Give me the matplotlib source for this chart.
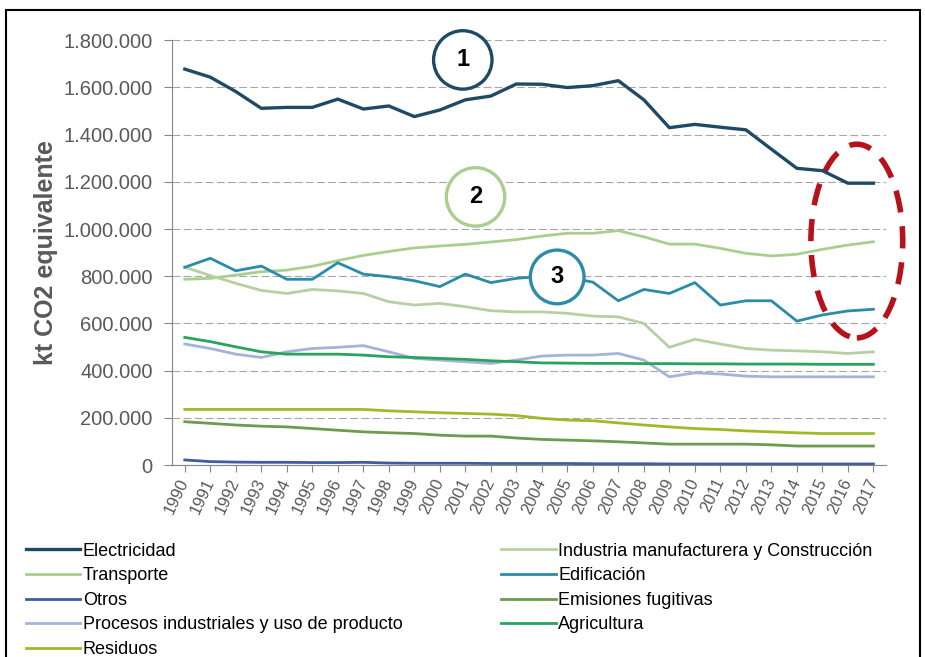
import numpy as np
import matplotlib
matplotlib.use("Agg")
import matplotlib.pyplot as plt
from matplotlib.patches import Ellipse, Rectangle
from matplotlib.ticker import FuncFormatter

plt.rcParams['font.family'] = ['Liberation Sans', 'DejaVu Sans']

# ----------------------------------------------------------------------
#   Data (kt CO2 equivalente, x1000)
# ----------------------------------------------------------------------
years = list(range(1990, 2018))

electricidad = [1677, 1643, 1582, 1511, 1515, 1515, 1550, 1508, 1521, 1476, 1504, 1547, 1563, 1614,
                1613, 1599, 1607, 1628, 1547, 1429, 1443, 1431, 1420, 1338, 1257, 1247, 1194, 1194]
transporte = [787, 791, 805, 819, 826, 842, 866, 888, 905, 920, 928, 935, 945, 955,
              970, 982, 982, 993, 967, 936, 936, 918, 897, 886, 893, 914, 932, 946]
industria = [838, 803, 770, 740, 727, 744, 738, 727, 692, 678, 685, 671, 654, 649,
             649, 643, 631, 628, 600, 499, 533, 513, 494, 487, 484, 480, 473, 480]
edificacion = [838, 876, 823, 843, 787, 787, 857, 809, 798, 781, 756, 809, 773, 791,
               800, 795, 775, 696, 744, 727, 773, 678, 696, 696, 610, 636, 653, 660]
otros = [22, 15, 13, 12, 12, 11, 11, 12, 9, 8, 8, 8, 7, 7,
         7, 7, 6, 6, 6, 5, 5, 5, 5, 5, 5, 5, 5, 5]
fugitivas = [184, 177, 170, 165, 162, 155, 148, 141, 137, 134, 127, 123, 123, 115,
             109, 106, 103, 99, 94, 89, 89, 89, 89, 86, 81, 81, 81, 81]
procesos = [513, 494, 470, 456, 480, 494, 499, 506, 480, 452, 445, 438, 431, 445,
            462, 466, 466, 473, 445, 374, 391, 386, 377, 374, 374, 374, 374, 374]
agricultura = [541, 523, 501, 480, 470, 470, 470, 466, 459, 456, 452, 448, 442, 438,
               433, 432, 431, 431, 430, 430, 429, 429, 428, 428, 428, 427, 427, 427]
residuos = [236, 236, 236, 236, 236, 236, 236, 236, 230, 226, 222, 219, 216, 210,
            198, 191, 188, 179, 170, 162, 155, 151, 145, 141, 137, 134, 134, 134]

series = [
    ("Electricidad", electricidad, '#1f4a66', 2.4),
    ("Transporte", transporte, '#a9cf8f', 2.0),
    ("Otros", otros, '#3f5c9f', 2.0),
    ("Procesos industriales y uso de producto", procesos, '#a3b3d9', 2.0),
    ("Residuos", residuos, '#9cbb27', 2.0),
    ("Industria manufacturera y Construcción", industria, '#b7d0a2', 2.0),
    ("Edificación", edificacion, '#2a8ca8', 2.0),
    ("Emisiones fugitivas", fugitivas, '#6d9b4f', 2.0),
    ("Agricultura", agricultura, '#2aa35f', 2.0),
]

fig = plt.figure(figsize=(9.25, 6.57), dpi=100)
ax = fig.add_axes([0.186, 0.292, 0.772, 0.647])

handles = []
for name, vals, col, lw in series:
    h, = ax.plot(years, np.array(vals) * 1000, color=col, lw=lw, label=name,
                 solid_joinstyle='round')
    handles.append(h)

ax.set_xlim(1989.5, 2017.5)
ax.set_ylim(0, 1800000)
ax.set_yticks(np.arange(0, 1800001, 200000))
ax.yaxis.set_major_formatter(FuncFormatter(lambda v, p: f"{int(v):,}".replace(",", ".")))
ax.set_xticks(years)
ax.set_xticklabels([str(y) for y in years], rotation=65, ha='right', va='center',
                   rotation_mode='anchor', fontsize=12, color='#595959')
ax.tick_params(axis='y', labelsize=14.5, colors='#595959', length=6, color='#868686', pad=8)
ax.tick_params(axis='x', length=5, color='#868686', pad=5)
ax.grid(axis='y', color='#a6a6a6', lw=0.8, dashes=(7, 3))
ax.set_axisbelow(True)
for s in ['top', 'right']:
    ax.spines[s].set_visible(False)
for s in ['left', 'bottom']:
    ax.spines[s].set_color('#868686')
ax.set_ylabel("kt CO2 equivalente", fontsize=18, fontweight='bold', color='#595959', labelpad=4)

# numbered circles
circ = [("1", 2000.9, 1716000, '#1f4a66', 0.75), ("2", 2001.4, 1136000, '#a9cf8f', 0.75),
        ("3", 2004.6, 797000, '#2a8ca8', 0.65)]
for txt, cx, cy, col, pd in circ:
    ax.text(cx, cy, txt, fontsize=17, fontweight='bold', ha='center', va='center',
            color='black', clip_on=False,
            bbox=dict(boxstyle=f'circle,pad={pd}', fc='white', ec=col, lw=2.4))

# dashed red ellipse
ax.add_patch(Ellipse((2016.35, 949000), 3.6, 820000, fill=False, ec='#b5121b',
                     lw=4, ls=(0, (4, 2.5)), clip_on=False))

# legend
leg_kw = dict(loc='upper left', frameon=False, fontsize=13, handlelength=3.0,
              handletextpad=0.15, labelspacing=0.42, borderaxespad=0, borderpad=0)
fig.legend(handles=handles[:5], bbox_to_anchor=(0.028, 0.174), **leg_kw)
fig.legend(handles=handles[5:], bbox_to_anchor=(0.542, 0.174), **leg_kw)

# outer frame (bottom edge runs off the picture, as in the source)
fig.add_artist(Rectangle((6 / 925, -0.01), 914 / 925, 1 - 10 / 657 + 0.01,
                         transform=fig.transFigure, fill=False, ec='black', lw=1.5))

fig.savefig("out.png", dpi=100)
